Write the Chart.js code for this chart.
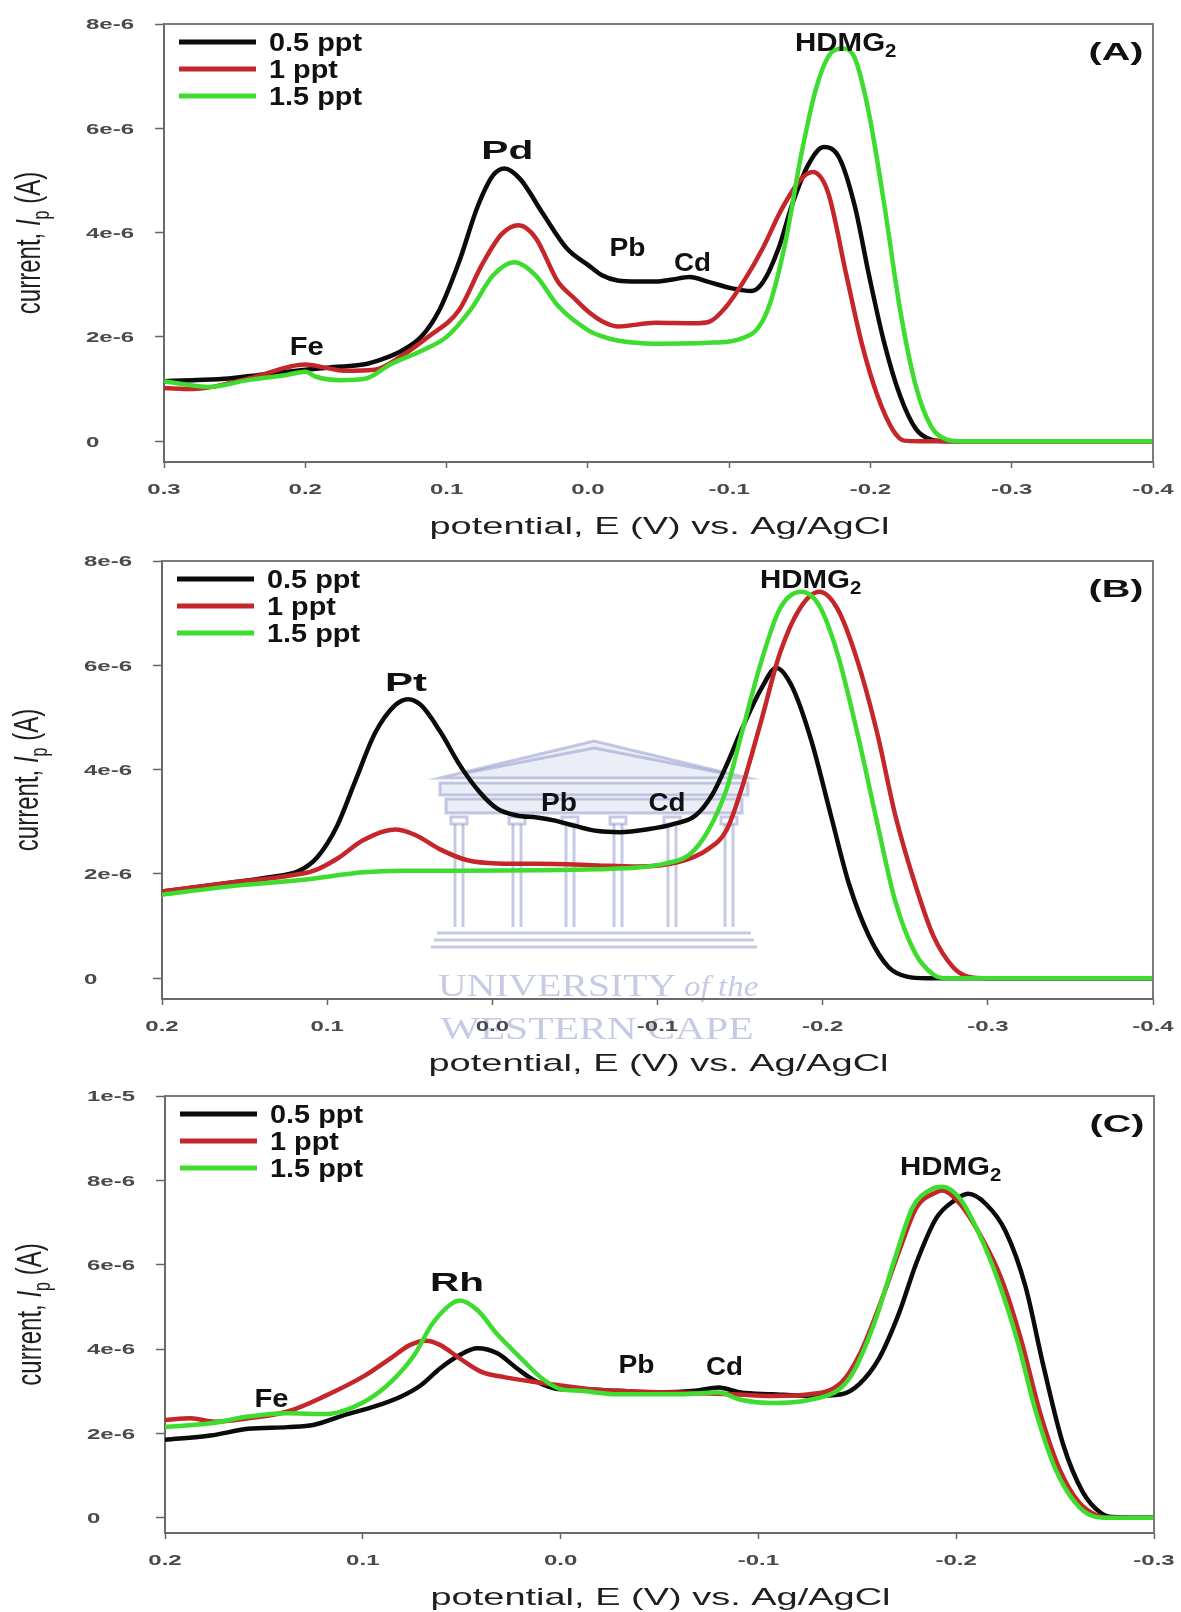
<!DOCTYPE html>
<html>
<head>
<meta charset="utf-8">
<title>Square-wave stripping voltammograms – Pd, Pt, Rh</title>
<script src="https://cdn.jsdelivr.net/npm/chart.js@4.4.1/dist/chart.umd.min.js"></script>
<style>
  html, body { margin: 0; padding: 0; background: #ffffff; }
  #fig { position: relative; width: 1181px; height: 1612px; background: #ffffff; overflow: hidden; }
  #fig canvas { position: absolute; left: 0; }
</style>
</head>
<body>
<div id="fig">
  <canvas id="panelA" width="1181" height="560" style="top:0px"></canvas>
  <canvas id="panelB" width="1181" height="555" style="top:535px"></canvas>
  <canvas id="panelC" width="1181" height="542" style="top:1070px"></canvas>
</div>
<script>
// ---------------------------------------------------------------
// Series shared by all three panels
// ---------------------------------------------------------------
const seriesLabels = ['0.5 ppt', '1 ppt', '1.5 ppt'];
const seriesColors = ['#0b0b0b', '#c4262a', '#3ddc2f'];

// ---------------------------------------------------------------
// Panel (A): Pd  –  potential E (V) and current (µA)
// ---------------------------------------------------------------
const aE05 = [0.30, 0.28, 0.254, 0.23, 0.20, 0.18, 0.159, 0.145, 0.132, 0.118, 0.105, 0.091, 0.078, 0.067, 0.059, 0.048, 0.032, 0.015, 0.0, -0.010, -0.021, -0.035, -0.048, -0.060, -0.072, -0.086, -0.102, -0.116, -0.124, -0.135, -0.145, -0.156, -0.167, -0.178, -0.189, -0.199, -0.210, -0.221, -0.232, -0.243, -0.254, -0.30, -0.40];
const aI05 = [1.15, 1.17, 1.20, 1.28, 1.37, 1.42, 1.47, 1.58, 1.73, 2.00, 2.52, 3.45, 4.50, 5.10, 5.23, 5.03, 4.37, 3.70, 3.38, 3.18, 3.08, 3.06, 3.06, 3.10, 3.15, 3.05, 2.93, 2.88, 3.05, 3.70, 4.57, 5.30, 5.64, 5.43, 4.50, 3.18, 1.86, 0.87, 0.24, 0.03, 0.0, 0.0, 0.0];

const aE1 = [0.30, 0.28, 0.24, 0.20, 0.186, 0.173, 0.151, 0.132, 0.113, 0.091, 0.075, 0.061, 0.049, 0.037, 0.021, 0.010, 0.0, -0.010, -0.021, -0.048, -0.075, -0.086, -0.097, -0.110, -0.124, -0.137, -0.151, -0.159, -0.170, -0.183, -0.194, -0.205, -0.216, -0.224, -0.235, -0.30, -0.40];
const aI1 = [1.02, 1.00, 1.20, 1.47, 1.41, 1.35, 1.37, 1.63, 2.00, 2.52, 3.38, 3.97, 4.14, 3.90, 3.05, 2.75, 2.49, 2.30, 2.20, 2.27, 2.26, 2.29, 2.55, 3.05, 3.71, 4.44, 5.03, 5.16, 4.77, 3.18, 1.86, 0.87, 0.21, 0.01, 0.0, 0.0, 0.0];

const aE15 = [0.30, 0.268, 0.241, 0.213, 0.20, 0.192, 0.175, 0.157, 0.14, 0.118, 0.10, 0.083, 0.067, 0.052, 0.037, 0.021, 0.0, -0.008, -0.021, -0.048, -0.089, -0.108, -0.121, -0.129, -0.140, -0.151, -0.162, -0.173, -0.181, -0.189, -0.199, -0.210, -0.221, -0.232, -0.243, -0.254, -0.262, -0.30, -0.40];
const aI15 = [1.15, 1.04, 1.17, 1.27, 1.33, 1.23, 1.17, 1.20, 1.47, 1.73, 2.00, 2.52, 3.18, 3.43, 3.18, 2.59, 2.13, 2.03, 1.93, 1.87, 1.89, 1.96, 2.19, 2.65, 3.84, 5.49, 6.81, 7.47, 7.53, 7.34, 6.28, 4.50, 2.52, 1.07, 0.28, 0.03, 0.0, 0.0, 0.0];

const aPeakNames = ['Fe', 'Pd', 'Pb', 'Cd', 'HDMG2'];
const aPeakE = [0.199, 0.057, -0.028, -0.074, -0.1785];
const aPeakI = [1.84, 5.58, 3.72, 3.45, 7.67];

// ---------------------------------------------------------------
// Panel (B): Pt
// ---------------------------------------------------------------
const bE05 = [0.2, 0.159, 0.136, 0.117, 0.106, 0.094, 0.083, 0.071, 0.059, 0.051, 0.043, 0.031, 0.020, 0.008, -0.003, -0.015, -0.027, -0.038, -0.050, -0.064, -0.077, -0.095, -0.109, -0.123, -0.133, -0.142, -0.151, -0.163, -0.172, -0.181, -0.193, -0.205, -0.216, -0.228, -0.240, -0.251, -0.263, -0.30, -0.40];
const bI05 = [1.66, 1.83, 1.93, 2.06, 2.32, 2.92, 3.78, 4.70, 5.23, 5.35, 5.23, 4.70, 4.10, 3.58, 3.25, 3.12, 3.08, 3.02, 2.92, 2.82, 2.80, 2.86, 2.95, 3.12, 3.51, 4.10, 4.77, 5.56, 5.95, 5.62, 4.57, 3.12, 1.80, 0.81, 0.21, 0.03, 0.0, 0.0, 0.0];

const bE1 = [0.2, 0.159, 0.124, 0.108, 0.094, 0.078, 0.059, 0.047, 0.031, 0.015, -0.003, -0.038, -0.064, -0.088, -0.112, -0.130, -0.142, -0.151, -0.163, -0.174, -0.186, -0.198, -0.209, -0.221, -0.233, -0.244, -0.256, -0.267, -0.279, -0.288, -0.30, -0.40];
const bI1 = [1.66, 1.83, 1.96, 2.06, 2.29, 2.65, 2.85, 2.75, 2.46, 2.26, 2.20, 2.19, 2.16, 2.14, 2.22, 2.46, 2.85, 3.64, 4.96, 6.22, 7.08, 7.41, 7.08, 6.09, 4.70, 3.12, 1.80, 0.81, 0.21, 0.03, 0.0, 0.0];

const bE15 = [0.2, 0.159, 0.113, 0.078, 0.055, 0.020, -0.030, -0.064, -0.088, -0.105, -0.119, -0.130, -0.142, -0.151, -0.163, -0.174, -0.187, -0.198, -0.209, -0.221, -0.233, -0.244, -0.256, -0.267, -0.274, -0.30, -0.40];
const bI15 = [1.60, 1.76, 1.89, 2.03, 2.06, 2.06, 2.07, 2.09, 2.12, 2.20, 2.36, 2.79, 3.64, 4.70, 6.09, 7.08, 7.41, 7.14, 6.22, 4.70, 2.98, 1.47, 0.48, 0.07, 0.0, 0.0, 0.0];

const bPeakNames = ['Pt', 'Pb', 'Cd', 'HDMG2'];
const bPeakE = [0.0523, -0.0404, -0.1057, -0.1893];
const bPeakI = [5.68, 3.38, 3.38, 7.67];

// ---------------------------------------------------------------
// Panel (C): Rh
// ---------------------------------------------------------------
const cE05 = [0.2, 0.177, 0.158, 0.138, 0.125, 0.109, 0.094, 0.080, 0.071, 0.061, 0.051, 0.042, 0.032, 0.022, 0.013, 0.0, -0.010, -0.029, -0.049, -0.068, -0.080, -0.091, -0.107, -0.126, -0.142, -0.151, -0.161, -0.171, -0.180, -0.190, -0.199, -0.206, -0.215, -0.225, -0.235, -0.244, -0.254, -0.264, -0.273, -0.279, -0.30];
const cI05 = [1.85, 1.95, 2.11, 2.15, 2.20, 2.44, 2.64, 2.89, 3.13, 3.54, 3.86, 4.02, 3.90, 3.54, 3.25, 3.05, 3.05, 3.01, 2.97, 3.01, 3.09, 2.97, 2.93, 2.89, 2.93, 3.17, 3.78, 4.84, 6.06, 7.11, 7.52, 7.68, 7.44, 6.79, 5.49, 3.62, 1.75, 0.61, 0.12, 0.02, 0.0];

const cE1 = [0.2, 0.187, 0.175, 0.158, 0.138, 0.119, 0.099, 0.086, 0.076, 0.068, 0.061, 0.051, 0.040, 0.028, 0.013, 0.0, -0.015, -0.035, -0.058, -0.087, -0.107, -0.126, -0.142, -0.151, -0.161, -0.171, -0.180, -0.190, -0.193, -0.202, -0.213, -0.223, -0.233, -0.242, -0.252, -0.262, -0.271, -0.278, -0.30];
const cI1 = [2.32, 2.36, 2.28, 2.36, 2.52, 2.89, 3.37, 3.78, 4.10, 4.20, 4.10, 3.78, 3.46, 3.33, 3.22, 3.14, 3.05, 3.00, 2.97, 2.93, 2.89, 2.93, 3.21, 3.86, 5.00, 6.30, 7.36, 7.72, 7.76, 7.44, 6.63, 5.65, 4.19, 2.56, 1.18, 0.37, 0.06, 0.0, 0.0];

const cE15 = [0.2, 0.177, 0.158, 0.138, 0.119, 0.099, 0.086, 0.074, 0.065, 0.055, 0.051, 0.042, 0.032, 0.020, 0.009, 0.0, -0.010, -0.029, -0.058, -0.080, -0.091, -0.107, -0.126, -0.142, -0.149, -0.159, -0.169, -0.178, -0.188, -0.193, -0.202, -0.211, -0.221, -0.231, -0.240, -0.250, -0.260, -0.269, -0.277, -0.30];
const cI15 = [2.15, 2.24, 2.40, 2.48, 2.46, 2.76, 3.21, 3.86, 4.59, 5.08, 5.15, 4.92, 4.35, 3.78, 3.29, 3.05, 3.01, 2.93, 2.93, 2.97, 2.80, 2.72, 2.80, 3.09, 3.54, 4.67, 6.14, 7.36, 7.80, 7.85, 7.56, 6.79, 5.65, 4.19, 2.56, 1.18, 0.37, 0.04, 0.0, 0.0];

const cPeakNames = ['Fe', 'Rh', 'Pb', 'Cd', 'HDMG2'];
const cPeakE = [0.1462, 0.0524, -0.0384, -0.0829, -0.1943];
const cPeakI = [2.85, 5.59, 3.66, 3.60, 8.34];

// ---------------------------------------------------------------
// Axis ticks and their labels (current axis in µA, printed in A)
// ---------------------------------------------------------------
const xTicksA = [0.3, 0.2, 0.1, 0.0, -0.1, -0.2, -0.3, -0.4];
const xLabelsA = ['0.3', '0.2', '0.1', '0.0', '-0.1', '-0.2', '-0.3', '-0.4'];
const xTicksB = [0.2, 0.1, 0.0, -0.1, -0.2, -0.3, -0.4];
const xLabelsB = ['0.2', '0.1', '0.0', '-0.1', '-0.2', '-0.3', '-0.4'];
const xTicksC = [0.2, 0.1, 0.0, -0.1, -0.2, -0.3];
const xLabelsC = ['0.2', '0.1', '0.0', '-0.1', '-0.2', '-0.3'];
const yTicksAB = [0, 2, 4, 6, 8];
const yLabelsAB = ['0', '2e-6', '4e-6', '6e-6', '8e-6'];
const yTicksC = [0, 2, 4, 6, 8, 10];
const yLabelsC = ['0', '2e-6', '4e-6', '6e-6', '8e-6', '1e-5'];

const xTitle = 'potential, E (V) vs. Ag/AgCl';

// ---------------------------------------------------------------
// Text styling
// ---------------------------------------------------------------
const SANS = '"Liberation Sans", Arial, Helvetica, sans-serif';
const SERIF = '"Liberation Serif", "Times New Roman", serif';
const LABEL_STYLE = {
  Pd: { size: 26, w: 52 }, Pt: { size: 26, w: 42 }, Rh: { size: 25, w: 54 },
  Fe: { size: 26, w: 34 }, Pb: { size: 26, w: 36 }, Cd: { size: 26, w: 37 },
  HDMG2: { size: 26, w: 90 }
};

// Draw text squeezed/stretched horizontally by factor sx; y is the baseline.
function stretchText(ctx, text, x, y, font, sx, align, color) {
  ctx.save();
  ctx.font = font;
  ctx.fillStyle = color;
  ctx.textBaseline = 'alphabetic';
  ctx.textAlign = 'left';
  const w = ctx.measureText(text).width * sx;
  let x0 = x;
  if (align === 'center') x0 = x - w / 2;
  else if (align === 'right') x0 = x - w;
  ctx.translate(x0, y);
  ctx.scale(sx, 1);
  ctx.fillText(text, 0, 0);
  ctx.restore();
  return w;
}
function naturalWidth(ctx, text, font) {
  ctx.save(); ctx.font = font; const w = ctx.measureText(text).width; ctx.restore(); return w;
}

// Faint university seal printed behind the middle panel
function drawWatermark(ctx) {
  ctx.save();
  ctx.strokeStyle = 'rgba(150,156,205,0.55)';
  ctx.fillStyle = 'rgba(170,176,220,0.22)';
  ctx.lineWidth = 3;
  ctx.beginPath(); ctx.moveTo(440, 243); ctx.lineTo(594, 206); ctx.lineTo(748, 243); ctx.closePath(); ctx.fill(); ctx.stroke();
  ctx.beginPath(); ctx.moveTo(466, 238); ctx.lineTo(594, 213); ctx.lineTo(722, 238); ctx.stroke();
  ctx.fillRect(440, 248, 308, 12); ctx.strokeRect(440, 248, 308, 12);
  ctx.fillRect(446, 264, 296, 14); ctx.strokeRect(446, 264, 296, 14);
  [459, 517, 570, 618, 672, 729].forEach(function (x) {
    ctx.strokeRect(x - 8, 282, 16, 7);
    ctx.beginPath();
    ctx.moveTo(x - 4, 289); ctx.lineTo(x - 4, 392);
    ctx.moveTo(x + 4, 289); ctx.lineTo(x + 4, 392);
    ctx.stroke();
  });
  [398, 405, 412].forEach(function (y, i) {
    ctx.beginPath(); ctx.moveTo(437 - i * 3, y); ctx.lineTo(751 + i * 3, y); ctx.stroke();
  });
  const wm = 'rgba(160,166,212,0.6)';
  const w1 = stretchText(ctx, 'UNIVERSITY', 438, 461, '32px ' + SERIF, 1.24, 'left', wm);
  stretchText(ctx, 'of the', 438 + w1 + 8, 461, 'italic 30px ' + SERIF, 1.1, 'left', wm);
  stretchText(ctx, 'WESTERN CAPE', 597, 504, '32px ' + SERIF, 1.3, 'center', wm);
  ctx.restore();
}

// ---------------------------------------------------------------
// Panel builder
// ---------------------------------------------------------------
function buildPanel(p) {
  const canvas = document.getElementById(p.canvasId);
  const H = canvas.height;
  const toPts = (E, I) => E.map((e, i) => ({ x: e, y: I[i] }));
  const series = [[p.E05, p.I05], [p.E1, p.I1], [p.E15, p.I15]];
  const datasets = series.map(function (s, k) {
    return {
      label: seriesLabels[k],
      data: toPts(s[0], s[1]),
      borderColor: seriesColors[k],
      backgroundColor: seriesColors[k],
      borderWidth: 4.5,
      pointRadius: 0,
      fill: false,
      cubicInterpolationMode: 'monotone',
      order: 2 - k
    };
  });

  const decor = {
    id: 'decor' + p.canvasId,
    beforeDraw(chart) {
      if (p.watermark) drawWatermark(chart.ctx);
    },
    afterDraw(chart) {
      const ctx = chart.ctx;
      const a = chart.chartArea;
      const xs = chart.scales.x, ys = chart.scales.y;

      // top and right frame
      ctx.save();
      ctx.strokeStyle = '#7a7a7a';
      ctx.lineWidth = 2;
      ctx.beginPath();
      ctx.moveTo(a.left, a.top); ctx.lineTo(a.right, a.top); ctx.lineTo(a.right, a.bottom);
      ctx.stroke();
      ctx.restore();

      // tick labels
      const tickFont = 'bold 15px ' + SANS;
      p.xTicks.forEach(function (v, i) {
        stretchText(ctx, p.xLabels[i], xs.getPixelForValue(v), a.bottom + 31.5, tickFont, 1.6, 'center', '#4a4a4a');
      });
      p.yTicks.forEach(function (v, i) {
        stretchText(ctx, p.yLabels[i], a.left - 78, ys.getPixelForValue(v) + 5.4, tickFont, 1.6, 'left', '#4a4a4a');
      });

      // x-axis title
      const tf = '24px ' + SANS;
      const sxT = 460 / naturalWidth(ctx, xTitle, tf);
      stretchText(ctx, xTitle, (a.left + a.right) / 2 + 1, a.bottom + 72, tf, sxT, 'center', '#1e1e1e');

      // y-axis title: current, I_p (A)
      ctx.save();
      ctx.translate(a.left - 124, (a.top + a.bottom) / 2);
      ctx.rotate(-Math.PI / 2);
      ctx.scale(1, 1.45);
      ctx.fillStyle = '#1e1e1e';
      ctx.textBaseline = 'alphabetic';
      ctx.textAlign = 'left';
      const f1 = '24px ' + SANS, fI = 'italic 24px ' + SANS, fs = '16px ' + SANS;
      const parts = [['current, ', f1, 0], ['I', fI, 0], ['p', fs, 6], [' (A)', f1, 0]];
      let total = 0;
      parts.forEach(function (q) { ctx.font = q[1]; total += ctx.measureText(q[0]).width; });
      let cx = -total / 2;
      parts.forEach(function (q) {
        ctx.font = q[1];
        ctx.fillText(q[0], cx, q[2]);
        cx += ctx.measureText(q[0]).width;
      });
      ctx.restore();

      // legend
      chart.data.datasets.forEach(function (ds, k) {
        const ry = a.top + 18 + 27 * k;
        ctx.save();
        ctx.strokeStyle = ds.borderColor;
        ctx.lineWidth = 5;
        ctx.beginPath();
        ctx.moveTo(a.left + 15, ry); ctx.lineTo(a.left + 92, ry);
        ctx.stroke();
        ctx.restore();
        stretchText(ctx, ds.label, a.left + 105, ry + 9.3, 'bold 26px ' + SANS, 1.11, 'left', '#111111');
      });

      // peak labels, anchored in data coordinates
      p.peakNames.forEach(function (name, i) {
        const st = LABEL_STYLE[name];
        const px = xs.getPixelForValue(p.peakE[i]);
        const py = ys.getPixelForValue(p.peakI[i]);
        const base = py + 0.358 * st.size;
        const f = 'bold ' + st.size + 'px ' + SANS;
        if (name === 'HDMG2') {
          const sx = st.w / naturalWidth(ctx, 'HDMG', f);
          stretchText(ctx, 'HDMG', px - st.w / 2, base, f, sx, 'left', '#111111');
          stretchText(ctx, '2', px + st.w / 2, base + 6, 'bold 18px ' + SANS, sx, 'left', '#111111');
        } else {
          const sx = st.w / naturalWidth(ctx, name, f);
          stretchText(ctx, name, px, base, f, sx, 'center', '#111111');
        }
      });

      // panel letter
      const lf = 'bold 24px ' + SANS;
      const sxL = 55 / naturalWidth(ctx, p.letter, lf);
      stretchText(ctx, p.letter, a.right - 37, a.top + 27 + 8.6, lf, sxL, 'center', '#111111');
    }
  };

  return new Chart(canvas, {
    type: 'line',
    data: { datasets: datasets },
    options: {
      responsive: false,
      animation: false,
      devicePixelRatio: 1,
      layout: { padding: { left: 0, top: p.areaTop, right: canvas.width - p.areaRight, bottom: 0 } },
      plugins: { legend: { display: false }, tooltip: { enabled: false } },
      scales: {
        x: {
          type: 'linear',
          reverse: true,
          min: p.xMin,
          max: p.xMax,
          afterBuildTicks: function (s) { s.ticks = p.xTicks.map(function (v) { return { value: v }; }); },
          afterFit: function (s) { s.height = H - p.areaBottom; },
          ticks: { display: false },
          grid: { drawOnChartArea: false, drawTicks: true, tickLength: 6, tickColor: '#666666', tickWidth: 1.5 },
          border: { display: true, color: '#6a6a6a', width: 2 }
        },
        y: {
          type: 'linear',
          min: p.yMin,
          max: p.yMax,
          afterBuildTicks: function (s) { s.ticks = p.yTicks.map(function (v) { return { value: v }; }); },
          afterFit: function (s) { s.width = p.areaLeft; },
          ticks: { display: false },
          grid: { drawOnChartArea: false, drawTicks: true, tickLength: 9, tickColor: '#666666', tickWidth: 1.5 },
          border: { display: true, color: '#6a6a6a', width: 2 }
        }
      }
    },
    plugins: [decor]
  });
}

buildPanel({
  canvasId: 'panelA', letter: '(A)',
  E05: aE05, I05: aI05, E1: aE1, I1: aI1, E15: aE15, I15: aI15,
  peakNames: aPeakNames, peakE: aPeakE, peakI: aPeakI,
  xTicks: xTicksA, xLabels: xLabelsA, yTicks: yTicksAB, yLabels: yLabelsAB,
  xMin: -0.4, xMax: 0.3, yMin: -0.4, yMax: 8,
  areaTop: 24, areaBottom: 462, areaLeft: 164, areaRight: 1153
});
buildPanel({
  canvasId: 'panelB', letter: '(B)', watermark: true,
  E05: bE05, I05: bI05, E1: bE1, I1: bI1, E15: bE15, I15: bI15,
  peakNames: bPeakNames, peakE: bPeakE, peakI: bPeakI,
  xTicks: xTicksB, xLabels: xLabelsB, yTicks: yTicksAB, yLabels: yLabelsAB,
  xMin: -0.4, xMax: 0.2, yMin: -0.4, yMax: 8,
  areaTop: 26, areaBottom: 464, areaLeft: 162, areaRight: 1153
});
buildPanel({
  canvasId: 'panelC', letter: '(C)',
  E05: cE05, I05: cI05, E1: cE1, I1: cI1, E15: cE15, I15: cI15,
  peakNames: cPeakNames, peakE: cPeakE, peakI: cPeakI,
  xTicks: xTicksC, xLabels: xLabelsC, yTicks: yTicksC, yLabels: yLabelsC,
  xMin: -0.3, xMax: 0.2, yMin: -0.36, yMax: 10,
  areaTop: 26, areaBottom: 463, areaLeft: 165, areaRight: 1154
});
</script>
</body>
</html>
